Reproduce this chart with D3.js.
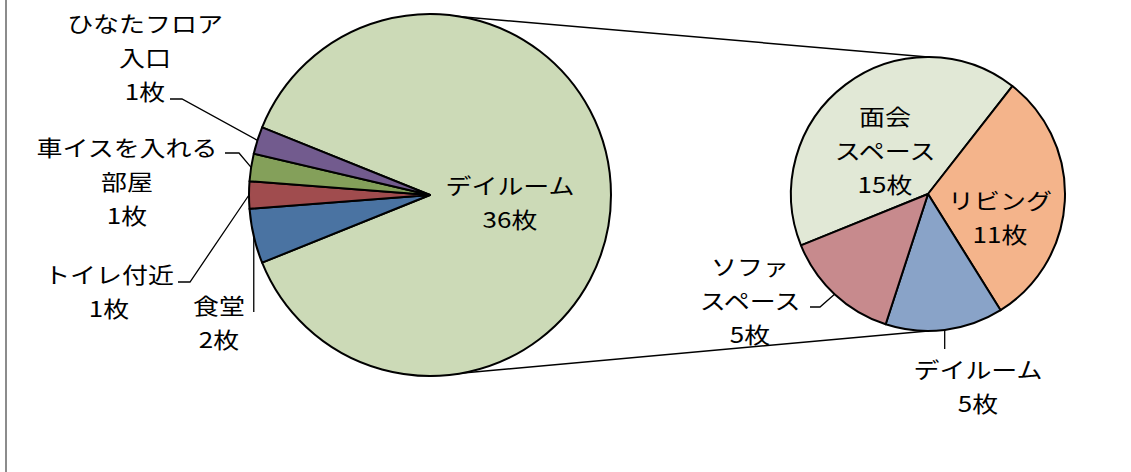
<!DOCTYPE html>
<html>
<head>
<meta charset="utf-8">
<script src="https://cdn.jsdelivr.net/npm/d3@7"></script>
<style>
  body { margin: 0; background: #fff; }
  svg text { font-family: "Noto Sans CJK JP", sans-serif; font-size: 22px; fill: #000; }
</style>
</head>
<body>
<svg id="chart" width="1131" height="472"></svg>
<script>
// main pie: デイルーム is split out into the second pie
var mainLabels = [["デイルーム"], ["食堂"], ["トイレ付近"], ["車イスを入れる", "部屋"], ["ひなたフロア", "入口"]];
var mainValues = [36, 2, 1, 1, 1];
var mainColors = ["#CCDAB7", "#4A73A2", "#A04C4E", "#84A05A", "#725B8E"];

// second pie (breakdown of デイルーム)
var subLabels = [["面会", "スペース"], ["リビング"], ["デイルーム"], ["ソファ", "スペース"]];
var subValues = [15, 11, 5, 5];
var subColors = ["#E1E8D6", "#F4B48B", "#89A3C8", "#C78A8D"];

var unit = "枚";

var svg = d3.select("#chart");
var rad = Math.PI / 180;

var main = { cx: 430, cy: 195, r: 181 };
var sub = { cx: 928, cy: 194, r: 137 };

// frame edge on the left
svg.append("line")
  .attr("x1", 6).attr("x2", 6).attr("y1", 0).attr("y2", 472)
  .attr("stroke", "#8c8c8c").attr("stroke-width", 2);

// the small slices sit centred on the left side
var mainTotal = d3.sum(mainValues);
var smallSpan = (mainTotal - mainValues[0]) / mainTotal * 360;
var mainStart = 270 - smallSpan / 2 - mainValues[0] / mainTotal * 360;

var mainPie = d3.pie().sort(null)
  .startAngle(mainStart * rad).endAngle((mainStart + 360) * rad);
var subPie = d3.pie().sort(null)
  .startAngle(248 * rad).endAngle((248 + 360) * rad);

var mainArcs = mainPie(mainValues);
var subArcs = subPie(subValues);

// connector lines between the two pies
svg.append("line")
  .attr("x1", main.cx).attr("y1", main.cy - main.r)
  .attr("x2", sub.cx).attr("y2", sub.cy - sub.r)
  .attr("stroke", "#000").attr("stroke-width", 1.5);
svg.append("line")
  .attr("x1", main.cx).attr("y1", main.cy + main.r)
  .attr("x2", sub.cx).attr("y2", sub.cy + sub.r)
  .attr("stroke", "#000").attr("stroke-width", 1.5);

function drawPie(pos, arcs, colors) {
  var arc = d3.arc().innerRadius(0).outerRadius(pos.r);
  var g = svg.append("g").attr("transform", "translate(" + pos.cx + "," + pos.cy + ")");
  g.selectAll("path").data(arcs).enter().append("path")
    .attr("d", arc)
    .attr("fill", function (d, i) { return colors[i]; })
    .attr("stroke", "#000")
    .attr("stroke-width", 2)
    .attr("stroke-linejoin", "round");
}

drawPie(main, mainArcs, mainColors);
drawPie(sub, subArcs, subColors);

// point on the rim in the middle of a slice
function rimPoint(pos, d) {
  var a = (d.startAngle + d.endAngle) / 2;
  return [pos.cx + pos.r * Math.sin(a), pos.cy - pos.r * Math.cos(a)];
}

function label(x, y, lines, value) {
  var all = lines.concat([value + unit]);
  var g = svg.append("g").attr("transform", "translate(" + x + "," + y + ") scale(1.18,1)");
  g.selectAll("text").data(all).enter().append("text")
    .attr("x", 0)
    .attr("y", function (d, i) { return i * 34; })
    .attr("text-anchor", "middle")
    .attr("dominant-baseline", "central")
    .text(function (d) { return d; });
}

function leader(points) {
  svg.append("path")
    .attr("d", d3.line()(points))
    .attr("fill", "none")
    .attr("stroke", "#000")
    .attr("stroke-width", 1.3);
}

// label layout: [text x, first line y, leader start]
var mainLayout = [
  { x: 510, y: 184 },
  { x: 219, y: 304, lead: "v" },
  { x: 109, y: 273, lead: [178, 282, 190] },
  { x: 127, y: 146, lead: [225, 153, 239] },
  { x: 145, y: 22, lead: [170, 99, 182] }
];
var subLayout = [
  { x: 885, y: 115 },
  { x: 1000, y: 199 },
  { x: 978, y: 368, lead: "v" },
  { x: 750, y: 265, lead: [810, 307, 820] }
];

function placeLabels(pos, arcs, layout, labels, values) {
  arcs.forEach(function (d, i) {
    var L = layout[i];
    var p = rimPoint(pos, d);
    if (L.lead === "v") {
      var y0 = pos === main ? 312 : 349;
      leader([[p[0], y0], p]);
    } else if (L.lead) {
      leader([[L.lead[0], L.lead[1]], [L.lead[2], L.lead[1]], p]);
    }
    label(L.x, L.y, labels[i], values[i]);
  });
}

placeLabels(main, mainArcs, mainLayout, mainLabels, mainValues);
placeLabels(sub, subArcs, subLayout, subLabels, subValues);
</script>
</body>
</html>
